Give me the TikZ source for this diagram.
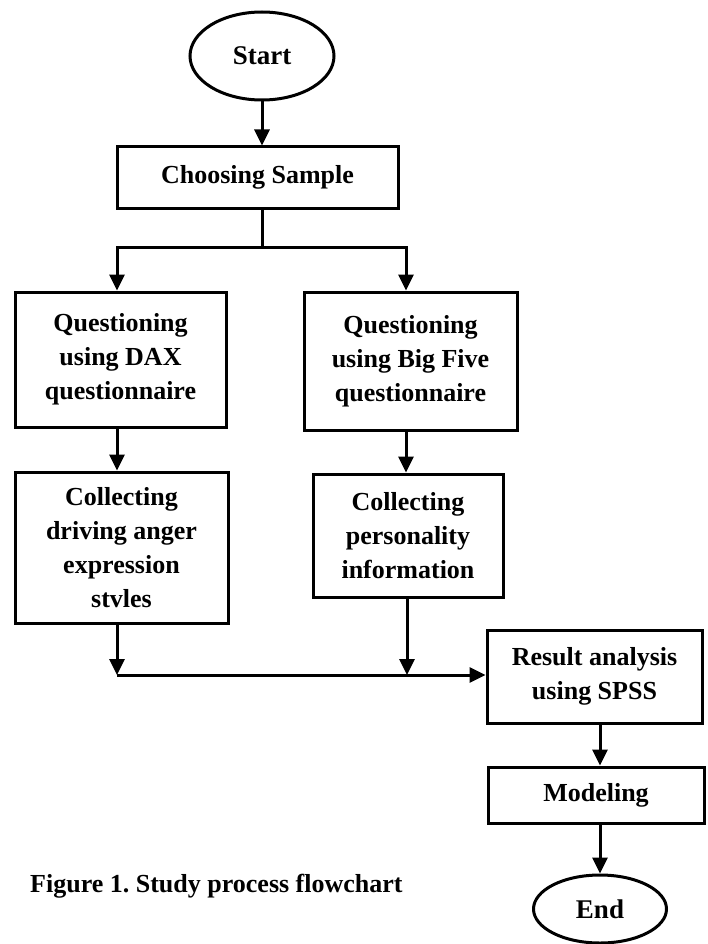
\documentclass[tikz,border=0pt]{standalone}
\usepackage{fontspec}
\setmainfont{Liberation Serif}
\usetikzlibrary{shapes.geometric,arrows.meta}
\tikzset{
  box/.style={draw, line width=3pt, rectangle, align=center, inner sep=0pt,
    font=\fontsize{26}{34}\selectfont\bfseries},
  term/.style={draw, line width=3pt, ellipse, inner sep=0pt, align=center,
    font=\fontsize{27}{34}\selectfont\bfseries},
  flow/.style={line width=3pt, -{Triangle[length=16pt,width=15pt]}},
  wire/.style={line width=3pt}
}
\begin{document}
\frenchspacing
\begin{tikzpicture}[x=1pt, y=-1pt]
  \useasboundingbox (0,0) rectangle (708,944);

  % terminals and process boxes
  \node[term, minimum width=144pt, minimum height=88pt] (start) at (262,56) {Start};
  \node[box, minimum width=281pt, minimum height=61pt] (choose) at (257.5,177.5) {Choosing Sample};
  \node[box, minimum width=211pt, minimum height=135pt] (dax) at (120.5,359.5)
    {Questioning\\using DAX\\questionnaire};
  \node[box, minimum width=213pt, minimum height=138pt] (big) at (410.5,361)
    {Questioning\\using Big Five\\questionnaire};
  \node[box, minimum width=213pt, minimum height=151pt] (anger) at (121.5,547.5)
    {Collecting\\driving anger\\expression\\stvles};
  \node[box, minimum width=190pt, minimum height=123pt] (pers) at (408,535.5)
    {Collecting\\personality\\information};
  \node[box, minimum width=215pt, minimum height=93pt] (spss) at (594.5,676.5)
    {Result analysis\\using SPSS};
  \node[box, minimum width=216pt, minimum height=56pt] (model) at (596,795) {Modeling};
  \node[term, minimum width=133pt, minimum height=68pt] (end) at (600,909) {End};

  % caption
  \node[anchor=base west, inner sep=0pt, font=\fontsize{26}{30}\selectfont\bfseries] (cap) at (30,892)
    {Figure 1.\ Study process flowchart};

  % branching below the sample box
  \coordinate (split) at (262,247);
  \coordinate (splitL) at (117,247);
  \coordinate (splitR) at (406,247);
  \draw[flow] (start) -- (start |- choose.north);
  \draw[wire] (split |- choose.south) -- (split);
  \draw[wire, line cap=rect] (splitL) -- (splitR);
  \draw[flow] (splitL) -- (splitL |- dax.north);
  \draw[flow] (splitR) -- (splitR |- big.north);

  % questionnaires to collected data
  \draw[flow] (splitL |- dax.south) -- (splitL |- anger.north);
  \draw[flow] (splitR |- big.south) -- (splitR |- pers.north);

  % merging into the analysis
  \coordinate (mergeL) at (117,675);
  \coordinate (mergeR) at (407,675);
  \draw[flow] (mergeL |- anger.south) -- (mergeL);
  \draw[flow] (mergeR |- pers.south) -- (mergeR);
  \draw[flow] (mergeL) -- (mergeL -| spss.west);

  % analysis to modeling to end
  \coordinate (tail) at (600,0);
  \draw[flow] (tail |- spss.south) -- (tail |- model.north);
  \draw[flow] (tail |- model.south) -- (end.north);
\end{tikzpicture}
\end{document}
